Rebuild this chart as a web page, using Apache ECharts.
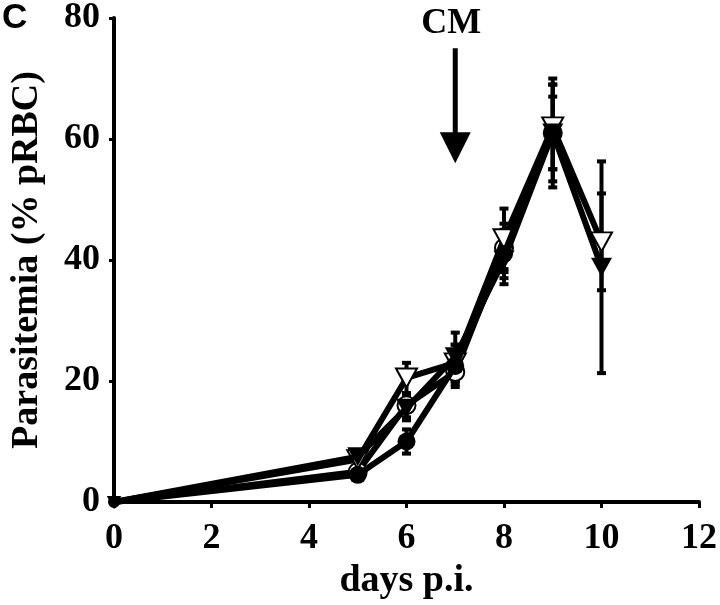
<!DOCTYPE html>
<html><head><meta charset="utf-8">
<script src="https://cdn.jsdelivr.net/npm/echarts@6/dist/echarts.min.js"></script>
<style>html,body{margin:0;padding:0;background:#fff}#c{width:720px;height:605px}</style>
</head><body><div id="c"></div>
<script>
// ---- data ----
const days = [0, 5, 6, 7, 8, 9, 10];
const xTicks = [0, 2, 4, 6, 8, 10, 12];
const yTicks = [0, 20, 40, 60, 80];
const filledCircle    = [0, 4.5, 10, 22.5, 41, 61, null];
const filledCircleErr = [0, 0.5, 2, 3.5, 4, 8, null];
const openCircle      = [0, 5, 16, 21.5, 42, 61, null];
const openCircleErr   = [0, 0.5, 2, 2, 4, 6, null];
const filledTri       = [0, 7.5, 15.5, 24, 40, 61, 38.8];
const filledTriErr    = [0, 0.5, 2, 4, 4, 9, 17.5];
const openTri         = [0, 7, 20.5, 23, 43.5, 62, 43];
const openTriErr      = [0, 0.5, 2.5, 3, 5, 7, 8];
const arrowDay = 7, arrowTop = 75, arrowTip = 56, arrowLabel = 'CM', labelLevel = 79;

const SERIF = "'Liberation Serif','Times New Roman',serif";
const chart = echarts.init(document.getElementById('c'), null, {renderer: 'canvas'});

function pairs(vals) {
  return days.map((d, i) => vals[i] == null ? null : [d, vals[i]]).filter(p => p);
}
function errPairs(vals, errs) {
  return days.map((d, i) => vals[i] == null ? null : [d, vals[i], errs[i]]).filter(p => p);
}
function renderErr(params, api) {
  const x = api.value(0), v = api.value(1), e = api.value(2);
  if (!e) return null;
  const t = api.coord([x, v + e]), b = api.coord([x, v - e]);
  const cw = 9;
  const st = {stroke: '#000', lineWidth: 4};
  return {type: 'group', children: [
    {type: 'line', shape: {x1: t[0], y1: t[1], x2: b[0], y2: b[1]}, style: st},
    {type: 'line', shape: {x1: t[0] - cw / 2, y1: t[1], x2: t[0] + cw / 2, y2: t[1]}, style: st},
    {type: 'line', shape: {x1: b[0] - cw / 2, y1: b[1], x2: b[0] + cw / 2, y2: b[1]}, style: st}
  ]};
}
function errSeries(vals, errs) {
  return {type: 'custom', renderItem: renderErr, data: errPairs(vals, errs), z: 1, silent: true, clip: false};
}
function lineSeries(vals, symbol, fill, size, rotate, z) {
  return {
    type: 'line', data: pairs(vals), symbol: symbol,
    symbolSize: (val) => val[0] === 0 ? (Array.isArray(size) ? [11, 10] : 10) : size,
    symbolRotate: rotate || 0,
    showAllSymbol: true, z: z, clip: false,
    lineStyle: {color: '#000', width: 6},
    itemStyle: {color: fill, borderColor: '#000', borderWidth: fill === '#fff' ? 2 : 0, opacity: 1}
  };
}

chart.setOption({
  animation: false,
  backgroundColor: '#fff',
  grid: {left: 111, right: 21, top: 16, bottom: 99},
  xAxis: {
    type: 'value', min: 0, max: 12, interval: 2,
    name: 'days p.i.', nameLocation: 'middle', nameGap: 60,
    nameTextStyle: {fontFamily: SERIF, fontWeight: 'bold', fontSize: 38, color: '#000'},
    axisLine: {lineStyle: {color: '#000', width: 4}},
    axisTick: {show: true, length: 6, lineStyle: {color: '#000', width: 3}},
    axisLabel: {fontFamily: SERIF, fontWeight: 'bold', fontSize: 36, color: '#000', margin: 19,
      formatter: v => xTicks.includes(v) ? String(v) : ''},
    splitLine: {show: false}
  },
  yAxis: {
    type: 'value', min: 0, max: 80, interval: 20,
    name: 'Parasitemia (% pRBC)', nameLocation: 'middle', nameGap: 68,
    nameTextStyle: {fontFamily: SERIF, fontWeight: 'bold', fontSize: 38, color: '#000'},
    axisLine: {show: true, lineStyle: {color: '#000', width: 4}},
    axisTick: {show: true, length: 5, lineStyle: {color: '#000', width: 3}},
    axisLabel: {fontFamily: SERIF, fontWeight: 'bold', fontSize: 36, color: '#000', margin: 14,
      formatter: v => yTicks.includes(v) ? String(v) : ''},
    splitLine: {show: false}
  },
  series: [
    errSeries(filledCircle, filledCircleErr),
    errSeries(openCircle, openCircleErr),
    errSeries(filledTri, filledTriErr),
    errSeries(openTri, openTriErr),
    lineSeries(openCircle, 'circle', '#fff', 18, 0, 3),
    lineSeries(openTri, 'triangle', '#fff', [21, 19], 180, 4),
    lineSeries(filledCircle, 'circle', '#000', 18, 0, 5),
    lineSeries(filledTri, 'triangle', '#000', [21, 19], 180, 6)
  ]
});

const pTop = chart.convertToPixel({gridIndex: 0}, [arrowDay, arrowTop]);
const pTip = chart.convertToPixel({gridIndex: 0}, [arrowDay, arrowTip]);
const pLab = chart.convertToPixel({gridIndex: 0}, [arrowDay, labelLevel]);
const headH = 31, headW = 31;
chart.setOption({
  graphic: [
    {type: 'line', shape: {x1: pTop[0], y1: pTop[1], x2: pTip[0], y2: pTip[1] - headH + 2}, style: {stroke: '#000', lineWidth: 5}},
    {type: 'polygon', shape: {points: [[pTip[0] - headW / 2, pTip[1] - headH], [pTip[0] + headW / 2, pTip[1] - headH], [pTip[0], pTip[1]]]}, style: {fill: '#000'}},
    {type: 'text', x: pLab[0] - 4, y: pLab[1], style: {text: arrowLabel, font: "bold 36px 'Liberation Serif'", fill: '#000', align: 'center', verticalAlign: 'middle'}},
    {type: 'text', left: 2, top: 1, style: {text: 'C', font: "bold 35px 'Liberation Sans'", fill: '#000'}}
  ]
});
</script>
</body></html>
